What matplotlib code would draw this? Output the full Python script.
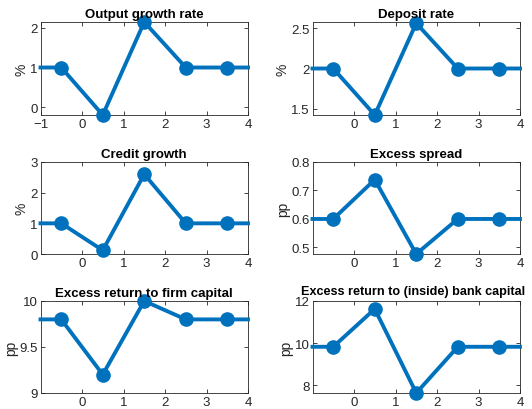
import matplotlib
matplotlib.use('Agg')
import matplotlib.pyplot as plt
import numpy as np

plt.rcParams['font.family'] = ['Liberation Sans', 'DejaVu Sans']

# horizon: line runs from -1 to 4, markers sit on the half periods
periods = [-1, -0.5, 0.5, 1.5, 2.5, 3.5, 4]

output_growth = [1, 1, -0.2, 2.15, 1, 1, 1]
deposit_rate = [2, 2, 1.42, 2.565, 2, 2, 2]
credit_growth = [1, 1, 0.12, 2.6, 1, 1, 1]
excess_spread = [0.6, 0.6, 0.738, 0.477, 0.6, 0.6, 0.6]
firm_return = [9.8, 9.8, 9.2, 10.0, 9.8, 9.8, 9.8]
bank_return = [9.82, 9.82, 11.62, 7.62, 9.82, 9.82, 9.82]

titles = ["Output growth rate", "Deposit rate", "Credit growth",
          "Excess spread", "Excess return to firm capital",
          "Excess return to (inside) bank capital"]
units = ["%", "%", "%", "pp", "pp", "pp"]
series = [output_growth, deposit_rate, credit_growth,
          excess_spread, firm_return, bank_return]
ylims = [(-0.2, 2.15), (1.42, 2.58), (0, 3), (0.477, 0.8), (9, 10), (7.62, 12)]
yticks = [[0, 1, 2], [1.5, 2, 2.5], [0, 1, 2, 3], [0.5, 0.6, 0.7, 0.8],
          [9, 9.5, 10], [8, 10, 12]]
ytick_labels = [["0", "1", "2"], ["1.5", "2", "2.5"], ["0", "1", "2", "3"],
                ["0.5", "0.6", "0.7", "0.8"], ["9", "9.5", "10"],
                ["8", "10", "12"]]

W, H = 532, 410
fig = plt.figure(figsize=(W / 100, H / 100), dpi=100)

# axes boxes in pixels: left, right, top, bottom
cols = [(40.5, 248), (312.5, 520)]
rows = [(23, 116), (163, 255), (302, 394)]

blue = '#0072BD'
for i, (name, unit, vals) in enumerate(zip(titles, units, series)):
    r, c = divmod(i, 2)
    x0, x1 = cols[c]
    y0, y1 = rows[r]
    ax = fig.add_axes([x0 / W, 1 - y1 / H, (x1 - x0) / W, (y1 - y0) / H])
    ax.plot(periods, vals, '-o', color=blue, lw=2.8, markersize=9.5,
            markevery=[1, 2, 3, 4, 5], clip_on=False, zorder=3)
    ax.set_xlim(-1, 4)
    ax.set_ylim(*ylims[i])
    if i == 0:
        ax.set_xticks([-1, 0, 1, 2, 3, 4])
    else:
        ax.set_xticks([0, 1, 2, 3, 4])
    ax.set_yticks(yticks[i])
    ax.set_yticklabels(ytick_labels[i])
    # the long last title is set a touch smaller so it stays inside the figure
    if i == 5:
        ax.set_title(name, fontsize=9.1, fontweight='bold', color='black',
                     pad=5, x=0.485)
    else:
        ax.set_title(name, fontsize=9.5, fontweight='bold', color='black',
                     pad=3.5)
    ax.set_ylabel(unit, fontsize=10, color='#262626', labelpad=1)
    ax.tick_params(direction='in', top=True, right=True, length=3,
                   width=0.6, labelsize=9.5, colors='#262626', pad=2)
    for s in ax.spines.values():
        s.set_color('#262626')
        s.set_linewidth(0.6)

fig.savefig('out.png', dpi=100)
